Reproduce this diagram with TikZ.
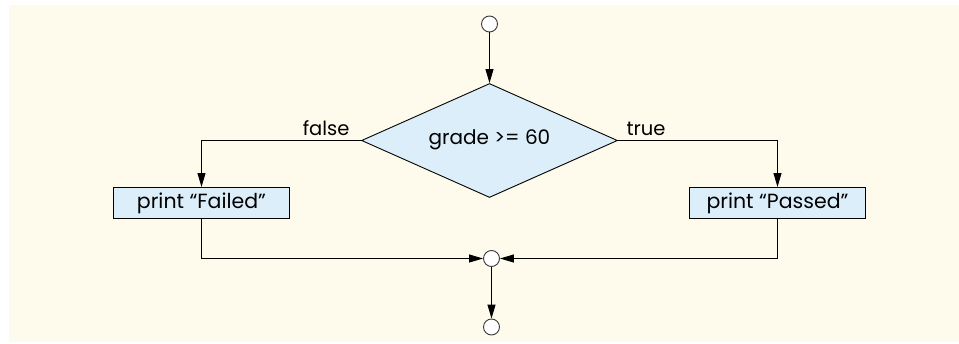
\documentclass[tikz,border=0pt]{standalone}
\usepackage{fontspec}
\setmainfont{Poppins}
\usetikzlibrary{shapes.geometric,arrows.meta}
\definecolor{bgcream}{RGB}{254,250,236}
\definecolor{boxblue}{RGB}{220,238,250}
\definecolor{circgray}{RGB}{60,60,60}
\tikzset{
  lbl/.style={font=\fontsize{19.5}{22}\selectfont},
  stateC/.style={circle,draw=circgray,fill=white,line width=0.9pt,minimum size=16pt,inner sep=0pt},
  actbox/.style={rectangle,draw=black,fill=boxblue,line width=1pt,minimum width=176pt,minimum height=31pt,inner sep=0pt,font=\fontsize{20.5}{22}\selectfont},
  decide/.style={diamond,draw=black,fill=boxblue,line width=0.9pt,aspect=2.25,minimum width=256pt,minimum height=114pt,inner sep=0pt},
  flow/.style={draw=black,line width=1pt,-{Triangle[length=14pt,width=8pt]}}
}
\begin{document}
\begin{tikzpicture}[x=1pt,y=-1pt]
\useasboundingbox (0,0) rectangle (959,343);
\fill[bgcream] (9,5) rectangle (959,342);
\node[stateC] (start) at (489.5,24) {};
\node[decide] (dec) at (489.5,140.5) {};
\node[font=\fontsize{20}{22}\selectfont,anchor=base] (dtext) at (489.5,144) {grade >= 60};
\node[actbox] (fail) at (201.5,203) {print “Failed”};
\node[actbox] (pass) at (777.5,203) {print “Passed”};
\node[stateC] (merge) at (491.5,258.5) {};
\node[stateC] (end) at (491.5,327) {};
\coordinate (fl) at (201.5,140.5);
\coordinate (tr) at (777.5,140.5);
\coordinate (fb) at (201.5,258.5);
\coordinate (pb) at (777.5,258.5);
\draw[flow] (start) -- (dec.north);
\draw[flow] (dec.west) -- (fl) -- (fail.north);
\draw[flow] (dec.east) -- (tr) -- (pass.north);
\draw[flow] (fail.south) -- (fb) -- (merge.west);
\draw[flow] (pass.south) -- (pb) -- (merge.east);
\draw[flow] (merge) -- (end);
\node[lbl,anchor=base east] (flbl) at (353,135) {false};
\node[lbl,anchor=base west] (tlbl) at (623,135) {true};
\end{tikzpicture}
\end{document}
